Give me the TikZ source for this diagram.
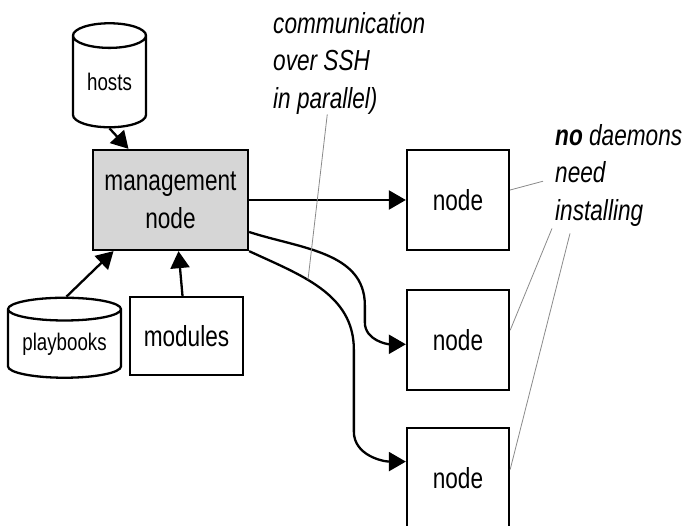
\documentclass[tikz,border=0pt]{standalone}
\usepackage{fontspec}
\setmainfont{Liberation Sans}[FakeStretch=0.78]
\usepackage{tikz}
\usetikzlibrary{arrows.meta, calc, positioning, shapes.geometric}
\definecolor{mFill}{HTML}{D6D6D6}
\definecolor{mLead}{HTML}{8A8A8A}

\begin{document}
\begin{tikzpicture}[x=1pt, y=1pt, >={Triangle[length=17pt, width=19pt]},
    box/.style={draw, line width=2.3pt, inner sep=0pt, align=center,
                font=\fontsize{29}{38}\selectfont},
    store/.style={cylinder, shape border rotate=90, draw, line width=2.3pt,
                  inner sep=0pt, font=\fontsize{24}{30}\selectfont},
    arr/.style={->, line width=2.3pt},
    leader/.style={draw=mLead, line width=0.8pt},
    note/.style={anchor=north west, inner sep=0pt, align=left,
                 font=\fontsize{29}{37.5}\selectfont\itshape}]
  \useasboundingbox (0,0) rectangle (688,525);
  % control side
  \node[store, minimum width=73, minimum height=104, aspect=0.55] (hosts) at (109.5,443) {hosts};
  \node[box, fill=mFill, minimum width=155, minimum height=100] (mgmt) at (170.5,325) {management\\node};
  \node[store, minimum width=113, minimum height=80, aspect=0.27] (books) at (64.5,181) {playbooks};
  \node[box, minimum width=113, minimum height=78] (mods) at (186.5,189) {modules};
  \draw[arr] (hosts.south) -- ([xshift=-42pt]mgmt.north);
  \draw[arr] ([xshift=2pt]books.north) -- ([xshift=-57pt]mgmt.south);
  \draw[arr] ([xshift=-4pt]mods.north) -- ([xshift=8pt]mgmt.south);
  % managed machines
  \node[box, minimum width=102, minimum height=100] (host1) at (458,325) {node};
  \node[box, minimum width=102, minimum height=100, below=37.5pt of host1] (host2) {node};
  \node[box, minimum width=102, minimum height=100, below=36pt of host2] (host3) {node};
  \draw[arr] (mgmt.east) -- (host1.west);
  \draw[arr] ([yshift=-32pt]mgmt.east) to[out=-18, in=90] ([xshift=-41pt, yshift=34.5pt]host2.west)
    -- ([xshift=-41pt, yshift=17.5pt]host2.west) to[out=-90, in=180] ([yshift=-4.5pt]host2.west);
  \draw[arr] (mgmt.south east) to[out=-25, in=90] coordinate[pos=0.4] (sshpt) ([xshift=-52pt, yshift=128.5pt]host3.west)
    -- ([xshift=-52pt, yshift=46.5pt]host3.west) to[out=-90, in=180] ([yshift=16.5pt]host3.west);
  % notes
  \node[note] (ssh) at (273,513) {communication\\over SSH\\in parallel)};
  \node[note] (dmn) at (555,401) {\textbf{no} daemons\\need\\installing};
  \draw[leader] ([xshift=-22pt]ssh.south) -- (sshpt);
  \draw[leader] ([yshift=10pt]host1.east) -- ([xshift=-12pt, yshift=-6pt]dmn.west);
  \draw[leader] ([yshift=9.5pt]host2.east) -- ([xshift=-3pt, yshift=-2pt]dmn.south west);
  \draw[leader] ([yshift=8.5pt]host3.east) -- ([xshift=15pt, yshift=-7pt]dmn.south west);
\end{tikzpicture}
\end{document}
